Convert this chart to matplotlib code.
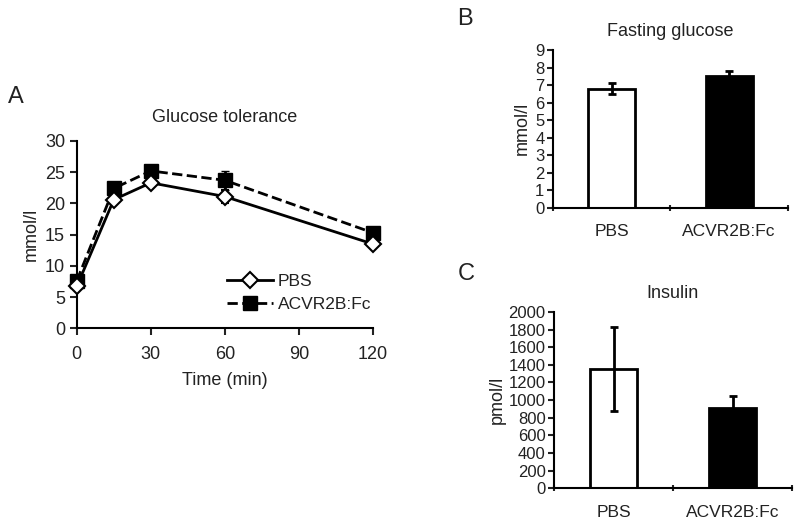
import matplotlib
matplotlib.use("Agg")
import matplotlib.pyplot as plt
from matplotlib.lines import Line2D

plt.rcParams['font.family'] = ['Liberation Sans', 'DejaVu Sans']
plt.rcParams['text.color'] = '#222222'
plt.rcParams['xtick.color'] = '#222222'
plt.rcParams['ytick.color'] = '#222222'
plt.rcParams['axes.labelcolor'] = '#222222'

# Panel A: glucose tolerance
time_min = [0, 15, 30, 60, 120]
pbs_glucose = [6.7, 20.6, 23.3, 21.1, 13.5]
pbs_glucose_err = [0.4, 0.5, 0.5, 1.1, 0.4]
acv_glucose = [7.6, 22.4, 25.2, 23.7, 15.3]
acv_glucose_err = [0.4, 0.6, 0.5, 1.5, 0.5]

# Panel B: fasting glucose
groups = ["PBS", "ACVR2B:Fc"]
fasting = [6.8, 7.5]
fasting_err = [0.3, 0.3]

# Panel C: insulin
insulin = [1350, 910]
insulin_err = [480, 130]

fig = plt.figure(figsize=(8, 5.26), dpi=100)

# --- A ---
axA = fig.add_axes([0.096, 0.376, 0.37, 0.356])
pbs_style = dict(color="black", lw=2, marker="D", ms=8, mfc="white",
                 mec="black", mew=1.5)
acv_style = dict(color="black", lw=2, ls="--", marker="s", ms=10,
                 mfc="black", mec="black")
l1 = axA.errorbar(time_min, pbs_glucose, yerr=pbs_glucose_err, capsize=3,
                  zorder=3, **pbs_style)
l2 = axA.errorbar(time_min, acv_glucose, yerr=acv_glucose_err, capsize=3,
                  zorder=2, **acv_style)
for cont in (l1, l2):
    for art in cont.get_children():
        art.set_clip_on(False)
axA.set_xlim(0, 120)
axA.set_ylim(0, 30)
axA.set_xticks([0, 30, 60, 90, 120])
axA.set_yticks(range(0, 31, 5))
axA.set_xlabel("Time (min)", fontsize=13, labelpad=6)
axA.set_ylabel("mmol/l", fontsize=13)
axA.set_title("Glucose tolerance", fontsize=13, pad=14)
axA.tick_params(labelsize=13, width=1.5, length=5)
axA.tick_params(axis="x", pad=8)
handles = [Line2D([], [], **pbs_style), Line2D([], [], **acv_style)]
axA.legend(handles, ["PBS", "ACVR2B:Fc"], loc="lower right",
           bbox_to_anchor=(1.03, 0.03), frameon=False, fontsize=12.5,
           handlelength=2.6, handletextpad=0.3, labelspacing=0.45,
           borderaxespad=0.2)
fig.text(0.010, 0.805, "A", fontsize=17)

# --- B ---
axB = fig.add_axes([0.691, 0.605, 0.294, 0.3])
axB.bar([0.5, 1.5], fasting, width=0.4, color=["white", "black"],
        edgecolor="black", lw=2)
axB.errorbar([0.5, 1.5], fasting, yerr=fasting_err, fmt="none", ecolor="black",
             elinewidth=2, capsize=3, capthick=2)
axB.set_xlim(0, 2)
axB.set_ylim(0, 9)
axB.set_yticks(range(0, 10))
axB.set_xticks([0, 1, 2])
axB.set_xticklabels([])
axB.set_xticks([0.5, 1.5], minor=True)
axB.set_xticklabels(groups, minor=True)
axB.tick_params(axis="x", which="minor", length=0, pad=12, labelsize=12.5)
axB.tick_params(axis="x", which="major", length=4, width=1.5, direction="inout")
axB.tick_params(axis="y", labelsize=12, width=1.5, length=4, pad=2)
axB.set_ylabel("mmol/l", fontsize=13, labelpad=3)
axB.set_title("Fasting glucose", fontsize=13, pad=10)
fig.text(0.572, 0.953, "B", fontsize=17)

# --- C ---
axC = fig.add_axes([0.6925, 0.072, 0.2975, 0.335])
axC.bar([0.5, 1.5], insulin, width=0.4, color=["white", "black"],
        edgecolor="black", lw=2)
axC.errorbar([0.5, 1.5], insulin, yerr=insulin_err, fmt="none", ecolor="black",
             elinewidth=2, capsize=3, capthick=2)
axC.set_xlim(0, 2)
axC.set_ylim(0, 2000)
axC.set_yticks(range(0, 2001, 200))
axC.set_xticks([0, 1, 2])
axC.set_xticklabels([])
axC.set_xticks([0.5, 1.5], minor=True)
axC.set_xticklabels(groups, minor=True)
axC.tick_params(axis="x", which="minor", length=0, pad=12, labelsize=12.5)
axC.tick_params(axis="x", which="major", length=4, width=1.5, direction="inout")
axC.tick_params(axis="y", labelsize=12, width=1.5, length=4, pad=2)
axC.set_ylabel("pmol/l", fontsize=13, labelpad=2)
axC.set_title("Insulin", fontsize=13, pad=10)
fig.text(0.572, 0.468, "C", fontsize=17)

for ax in (axA, axB, axC):
    ax.spines["top"].set_visible(False)
    ax.spines["right"].set_visible(False)
    ax.spines["left"].set_linewidth(1.5)
    ax.spines["bottom"].set_linewidth(1.5)

fig.savefig("out.png", dpi=100)
